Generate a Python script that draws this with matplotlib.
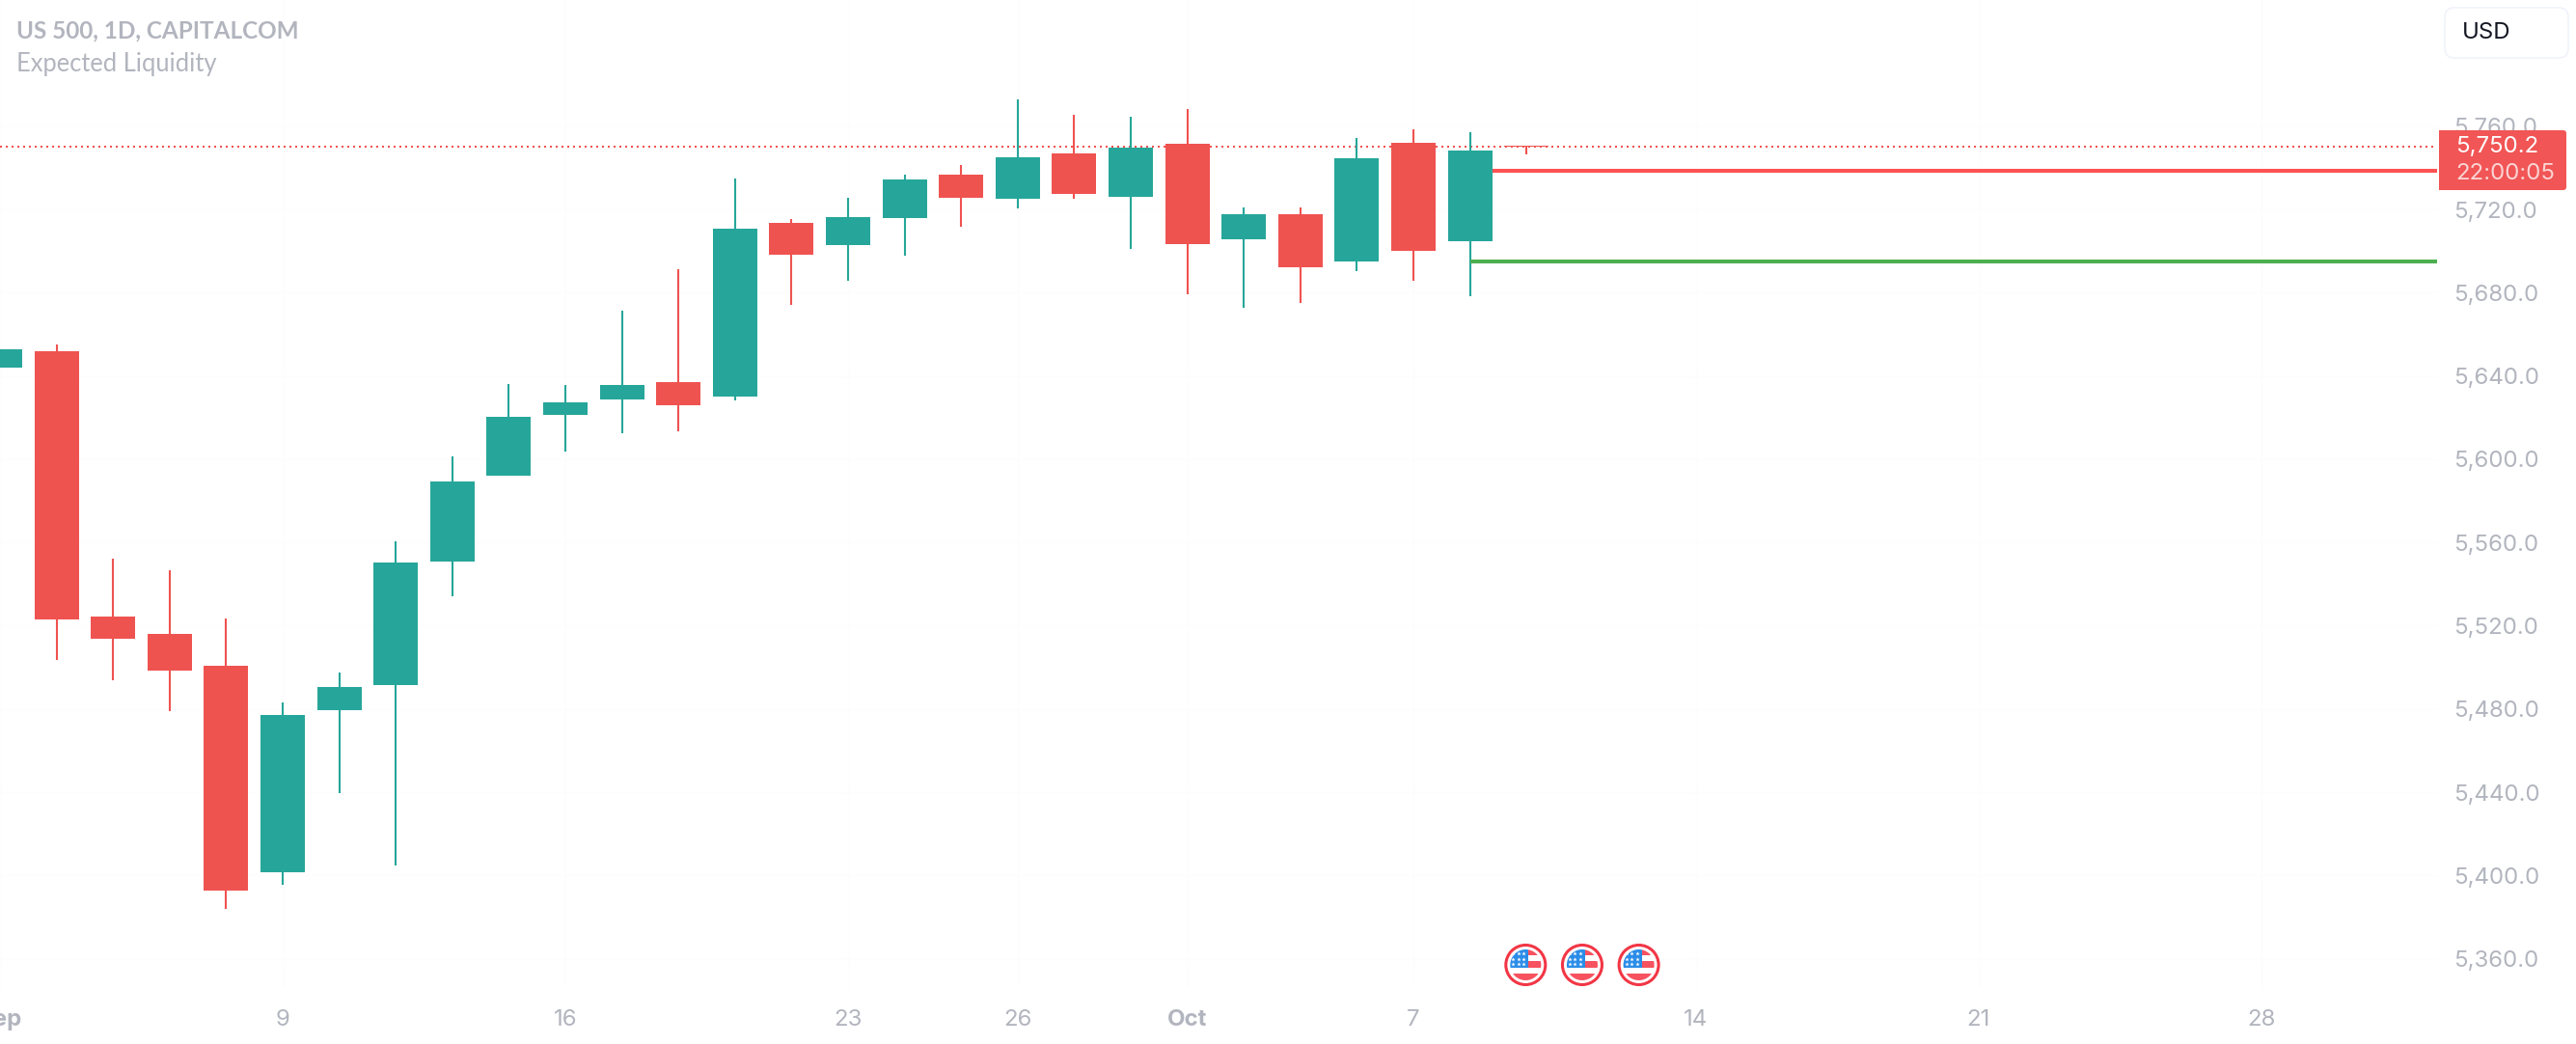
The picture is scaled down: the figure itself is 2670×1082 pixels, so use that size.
import matplotlib
matplotlib.use("Agg")
import matplotlib.pyplot as plt
from matplotlib.patches import Circle, Rectangle, FancyBboxPatch
import numpy as np

plt.rcParams['font.family'] = ['Inter', 'DejaVu Sans']

# Bars counted in trading days from 9 Sep (index 0)
bar_index = list(range(-5, 23))
body_top = [5652.8, 5651.9, 5524.4, 5516.1, 5500.8, 5477.2, 5490.6, 5550.4, 5589.3, 5620.4,
            5627.3, 5635.7, 5637.1, 5710.8, 5713.6, 5716.4, 5734.4, 5736.8, 5745.1, 5747.0,
            5749.7, 5751.6, 5717.7, 5717.7, 5744.6, 5752.1, 5748.3, 5750.7]
body_bottom = [5644.0, 5523.0, 5513.8, 5498.5, 5392.8, 5401.6, 5479.5, 5491.5, 5550.9, 5592.1,
               5621.3, 5628.7, 5626.0, 5630.1, 5698.3, 5702.9, 5715.9, 5725.6, 5725.2, 5727.5,
               5726.1, 5703.4, 5705.7, 5692.2, 5695.0, 5700.1, 5704.8, 5750.2]
highs = [5652.8, 5655.2, 5552.2, 5546.7, 5523.5, 5483.2, 5497.5, 5560.6, 5601.4, 5636.2,
         5635.7, 5671.4, 5691.3, 5734.9, 5715.4, 5725.6, 5736.8, 5741.4, 5772.9, 5765.5,
         5764.6, 5768.3, 5721.0, 5721.0, 5754.4, 5758.5, 5757.2, 5750.7]
lows = [5644.0, 5503.6, 5493.8, 5479.0, 5384.0, 5395.5, 5439.6, 5404.8, 5534.2, 5592.1,
        5603.7, 5612.5, 5613.4, 5628.3, 5674.2, 5685.8, 5697.8, 5711.7, 5720.5, 5725.2,
        5701.1, 5679.3, 5672.8, 5675.1, 5690.4, 5685.8, 5678.3, 5746.5]
is_up = [1, 0, 0, 0, 0, 1, 1, 1, 1, 1, 1, 1, 0, 1, 0, 1, 1, 0, 1, 0, 1, 0, 1, 0, 1, 0, 1, 0]

last_price = 5750.2
countdown = "22:00:05"
level_red = 5738.6
level_green = 5695.0
level_start = 21

price_ticks = list(range(5360, 5761, 40))
time_ticks = [-5, 0, 5, 10, 13, 16, 20, 25, 30, 35]
time_labels = ["Sep", "9", "16", "23", "26", "Oct", "7", "14", "21", "28"]
bold_labels = {"Sep", "Oct"}
event_bars = [22, 23, 24]

UP, DOWN = "#26A69A", "#EF5350"
GREY = "#B2B5BE"

fig = plt.figure(figsize=(26.7, 10.82), dpi=100, facecolor="white")
W, H = 2670, 1082
ax = fig.add_axes([0, (H - 1024) / H, 2526 / W, 1024 / H])
ax.set_xlim(-291 / 58.65, (2526 - 291) / 58.65)
ax.set_ylim(5345.9, 5820.67)
for s in ax.spines.values():
    s.set_visible(False)

colors = [UP if u else DOWN for u in is_up]
ax.axhline(last_price, color=DOWN, lw=1.44, ls=(0, (1, 2)), dash_capstyle="butt", zorder=1)
ax.vlines(bar_index, lows, highs, colors=colors, lw=1.5, zorder=2)
ax.bar(bar_index, np.array(body_top) - np.array(body_bottom), bottom=body_bottom,
       width=46 / 58.65, color=colors, linewidth=0, zorder=3)
x_end = ax.get_xlim()[1]
ax.hlines(level_red, level_start, x_end, colors="#FF5252", lw=2.9, zorder=1.5)
ax.hlines(level_green, level_start, x_end, colors="#4CAF50", lw=2.9, zorder=4)

ax.yaxis.tick_right()
ax.set_yticks(price_ticks)
ax.set_yticklabels([f"{p:,.1f}" for p in price_ticks])
ax.set_xticks(time_ticks)
ax.set_xticklabels(time_labels)
ax.tick_params(axis="both", length=0, labelsize=17.3, labelcolor=GREY)
ax.tick_params(axis="y", pad=12)
ax.tick_params(axis="x", pad=16)
for lab in ax.get_xticklabels():
    if lab.get_text() in bold_labels:
        lab.set_fontweight("bold")
ax.grid(True, color="#FDFDFE", lw=1)
ax.set_axisbelow(True)

# Overlay in pixel space for chart furniture
ov = fig.add_axes([0, 0, 1, 1], zorder=5, facecolor="none")
ov.set_xlim(0, W)
ov.set_ylim(H, 0)
ov.axis("off")

ov.text(17, 32, "US 500, 1D, CAPITALCOM", family="Lato", weight="bold", fontsize=17.5,
        color=GREY, va="center", ha="left")
ov.text(17, 66.5, "Expected Liquidity", family="Lato", fontsize=18.4,
        color=GREY, va="center", ha="left")

ov.add_patch(FancyBboxPatch((2534 + 6, 8 + 6), 128 - 12, 52 - 12, boxstyle="round,pad=6,rounding_size=10",
                            fc="white", ec="#F0F3FA", lw=1.2))
ov.text(2552, 34.5, "USD", fontsize=17.3, color="#131722", va="center", ha="left")

ov.add_patch(FancyBboxPatch((2528, 135), 132, 62, boxstyle="round,pad=0,rounding_size=3",
                            fc="#F15555", ec="none"))
ov.add_patch(Rectangle((2528, 135), 20, 62, fc="#F15555", ec="none"))
ov.text(2545, 152, f"{last_price:,.1f}", fontsize=17.3, color="white", va="center", ha="left")
ov.text(2545, 179.5, countdown, fontsize=17.3, color="white", alpha=0.75, va="center", ha="left")

def x_px(bar):
    return 291 + 58.65 * bar

for b in event_bars:
    cx, cy = x_px(b), 1000
    ov.add_patch(Circle((cx, cy), 20.5, fc="white", ec="#F23645", lw=2.2))
    clip = Circle((cx, cy), 16, transform=ov.transData, fc="none", ec="none")
    ov.add_patch(clip)
    parts = [Rectangle((cx + 3, cy - 16), 14, 6, fc="#F7525F", ec="none"),
             Rectangle((cx + 3, cy - 4), 14, 7, fc="#F7525F", ec="none"),
             Rectangle((cx - 17, cy + 9), 34, 8, fc="#F7525F", ec="none"),
             Rectangle((cx - 17, cy - 17), 20, 20, fc="#2A8CE8", ec="none")]
    for p in parts:
        ov.add_patch(p)
        p.set_clip_path(clip)
    sx = [cx + d for d in (-13, -7.5, -2)]
    for row in (-12, -6.5, -1):
        ov.scatter(sx, [cy + row] * 3, marker="*", s=11, color="white", linewidths=0, zorder=6)

fig.savefig("out.png", dpi=100)
